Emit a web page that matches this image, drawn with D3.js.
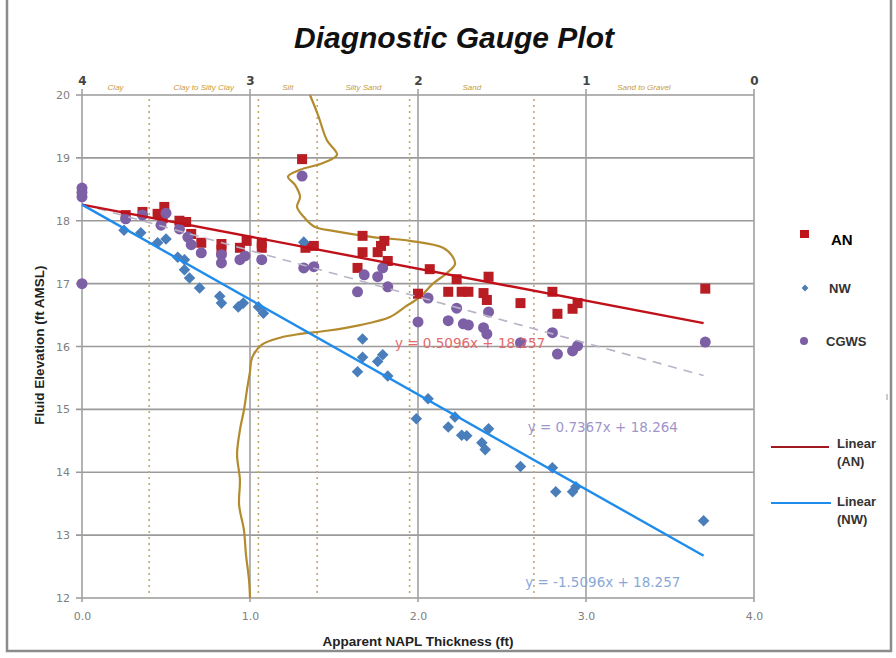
<!DOCTYPE html>
<html>
<head>
<meta charset="utf-8">
<script src="https://cdn.jsdelivr.net/npm/d3@7"></script>
<style>
  body { margin: 0; background: #fff; }
  svg { font-family: "Liberation Sans", Arial, sans-serif; }
</style>
</head>
<body>
<svg id="chart" width="896" height="658"></svg>
<script>
// gauge data: [apparent NAPL thickness (ft), fluid elevation (ft AMSL)]
let anPts = [[0.26,18.09],[0.36,18.14],[0.45,18.11],[0.49,18.22],[0.48,18.04],[0.58,18.0],[0.62,17.98],
  [0.65,17.79],[0.71,17.65],[0.83,17.63],[0.83,17.54],[0.94,17.57],[0.98,17.68],[1.07,17.65],[1.07,17.57],
  [1.31,18.98],[1.33,17.57],[1.38,17.6],[1.67,17.76],[1.67,17.5],[1.64,17.25],[1.76,17.5],[1.8,17.68],
  [1.78,17.6],[1.82,17.36],[2.07,17.23],[2.0,16.84],[2.18,16.87],[2.23,17.07],[2.26,16.87],[2.3,16.87],
  [2.42,17.11],[2.39,16.85],[2.41,16.74],[2.61,16.69],[2.8,16.87],[2.83,16.52],[2.92,16.6],[2.95,16.69],[3.71,16.92]]

let nwPts = [[0.25,17.85],[0.35,17.81],[0.45,17.65],[0.5,17.71],[0.57,17.42],[0.61,17.38],[0.61,17.22],
  [0.64,17.09],[0.7,16.93],[0.82,16.8],[0.83,16.69],[0.93,16.63],[0.96,16.69],[1.05,16.63],[1.08,16.53],
  [1.32,17.66],[1.67,16.12],[1.67,15.83],[1.64,15.6],[1.76,15.76],[1.79,15.87],[1.82,15.53],[2.06,15.17],
  [1.99,14.85],[2.18,14.72],[2.22,14.88],[2.26,14.59],[2.29,14.58],[2.38,14.47],[2.4,14.36],[2.42,14.69],
  [2.61,14.09],[2.8,14.07],[2.82,13.69],[2.92,13.69],[2.94,13.77],[3.7,13.23]]

let cgwsPts = [[0,18.52],[0,18.45],[0,18.38],[0,17.0],[0.26,18.03],[0.36,18.09],[0.47,17.93],[0.5,18.12],
  [0.58,17.87],[0.63,17.74],[0.65,17.62],[0.71,17.49],[0.83,17.46],[0.83,17.33],[0.94,17.38],[0.97,17.44],
  [1.07,17.38],[1.31,18.71],[1.32,17.25],[1.38,17.27],[1.64,16.87],[1.68,17.14],[1.76,17.11],[1.79,17.25],
  [1.82,16.95],[2.06,16.77],[2.0,16.39],[2.23,16.61],[2.18,16.41],[2.27,16.36],[2.3,16.34],[2.42,16.55],
  [2.39,16.3],[2.41,16.2],[2.61,16.06],[2.8,16.22],[2.83,15.88],[2.92,15.93],[2.95,16.01],[3.71,16.07]]

// soil behaviour index profile: [Ic, elevation]
let icCurve = [[2.643,20.0],[2.595,19.68],[2.542,19.28],[2.482,19.05],[2.565,18.92],[2.702,18.81],
  [2.774,18.7],[2.732,18.57],[2.702,18.38],[2.72,18.22],[2.673,18.04],[2.613,17.9],[2.506,17.84],
  [2.268,17.74],[2.048,17.68],[1.851,17.57],[1.792,17.42],[1.78,17.31],[1.827,17.17],[1.911,17.0],
  [1.988,16.79],[2.077,16.63],[2.167,16.47],[2.345,16.34],[2.542,16.25],[2.702,16.2],[2.821,16.14],
  [2.929,16.03],[2.988,15.82],[3.0,15.6],[3.018,15.31],[3.036,14.99],[3.06,14.67],[3.077,14.28],
  [3.06,13.88],[3.065,13.48],[3.036,13.08],[3.024,12.69],[3.006,12.29],[3.0,12.0]]

let soilBounds = [3.6, 2.95, 2.6, 2.05, 1.31]
let soilNames = ["Clay", "Clay to Silty Clay", "Silt", "Silty Sand", "Sand", "Sand to Gravel"]
let soilMids = [3.8, 3.275, 2.775, 2.325, 1.68, 0.655]

// linear trend lines: slope, intercept
let trendAN = {m: -0.5096, b: 18.257}
let trendNW = {m: -1.5096, b: 18.257}
let trendCG = {m: -0.7367, b: 18.264}
let trendEnd = 3.7

let xTicks = [0, 1, 2, 3, 4]
let yTicks = [12, 13, 14, 15, 16, 17, 18, 19, 20]
let icTicks = [4, 3, 2, 1, 0]

let svg = d3.select('#chart')

let pLeft = 82, pRight = 754, pTop = 95, pBottom = 598

let x = d3.scaleLinear().domain([0, 4]).range([pLeft, pRight])
let y = d3.scaleLinear().domain([12, 20]).range([pBottom, pTop])
let xIc = d3.scaleLinear().domain([4, 0]).range([pLeft, pRight])

// outer frame
svg.append('path')
    .attr('d', 'M7,0 V651 H891 V0')
    .attr('fill', 'none')
    .attr('stroke', '#8c8c8c')
    .attr('stroke-width', 2.5)

// title
svg.append('text')
    .attr('x', 454).attr('y', 48)
    .attr('text-anchor', 'middle')
    .attr('font-size', 30)
    .attr('font-weight', 'bold')
    .attr('font-style', 'italic')
    .attr('fill', '#111')
    .text('Diagnostic Gauge Plot')

// grid
svg.append('g').selectAll('line')
    .data(yTicks)
    .enter().append('line')
    .attr('x1', pLeft - 6).attr('x2', pRight)
    .attr('y1', d => y(d)).attr('y2', d => y(d))
    .attr('stroke', '#9a9a9a')
    .attr('stroke-width', 1.6)

svg.append('g').selectAll('line')
    .data(xTicks)
    .enter().append('line')
    .attr('x1', d => x(d)).attr('x2', d => x(d))
    .attr('y1', pTop - 6).attr('y2', pBottom + 4)
    .attr('stroke', '#a0a0a0')
    .attr('stroke-width', 1.6)

// left axis labels
let yAxis = svg.append('g')
    .attr('transform', `translate(${pLeft - 4},0)`)
    .call(d3.axisLeft(y).tickValues(yTicks).tickSize(0).tickPadding(8))
yAxis.select('.domain').remove()
yAxis.selectAll('text').attr('font-size', 11).attr('fill', '#808080')
    .attr('font-family', '"DejaVu Sans", sans-serif')

// bottom axis labels
let xAxis = svg.append('g')
    .attr('transform', `translate(0,${pBottom + 6})`)
    .call(d3.axisBottom(x).tickValues(xTicks).tickSize(0).tickPadding(8).tickFormat(d3.format('.1f')))
xAxis.select('.domain').remove()
xAxis.selectAll('text').attr('font-size', 11).attr('fill', '#808080')
    .attr('font-family', '"DejaVu Sans", sans-serif')

// top Ic axis labels
let icAxis = svg.append('g')
    .attr('transform', `translate(0,${pTop - 8})`)
    .call(d3.axisTop(xIc).tickValues(icTicks).tickSize(0).tickPadding(2).tickFormat(d3.format('d')))
icAxis.select('.domain').remove()
icAxis.selectAll('text').attr('font-size', 12).attr('fill', '#444')
    .attr('font-weight', 'bold')
    .attr('font-family', '"DejaVu Sans", sans-serif')

// soil type labels
svg.append('g').selectAll('text')
    .data(soilNames)
    .enter().append('text')
    .attr('x', (d, i) => xIc(soilMids[i]))
    .attr('y', pTop - 5)
    .attr('text-anchor', 'middle')
    .attr('font-size', 8)
    .attr('font-style', 'italic')
    .attr('fill', '#c89a3c')
    .text(d => d)

// soil boundary lines
svg.append('g').selectAll('line')
    .data(soilBounds)
    .enter().append('line')
    .attr('x1', d => xIc(d)).attr('x2', d => xIc(d))
    .attr('y1', pTop + 4).attr('y2', pBottom)
    .attr('stroke', '#c9a766')
    .attr('stroke-width', 1.6)
    .attr('stroke-dasharray', '2,4')

// Ic profile
svg.append('path')
    .datum(icCurve)
    .attr('d', d3.line().x(d => xIc(d[0])).y(d => y(d[1])).curve(d3.curveCatmullRom))
    .attr('fill', 'none')
    .attr('stroke', '#b38b2e')
    .attr('stroke-width', 2.2)

// points
svg.append('g').selectAll('rect')
    .data(anPts)
    .enter().append('rect')
    .attr('x', d => x(d[0]) - 5).attr('y', d => y(d[1]) - 5)
    .attr('width', 10).attr('height', 10)
    .attr('fill', '#b81d24')

svg.append('g').selectAll('path')
    .data(nwPts)
    .enter().append('path')
    .attr('d', d3.symbol().type(d3.symbolDiamond2).size(85))
    .attr('transform', d => `translate(${x(d[0])},${y(d[1])})`)
    .attr('fill', '#4a7ebb')

svg.append('g').selectAll('circle')
    .data(cgwsPts)
    .enter().append('circle')
    .attr('cx', d => x(d[0])).attr('cy', d => y(d[1]))
    .attr('r', 5.5)
    .attr('fill', '#7d5fa6')

// trend lines
let trendLine = (t, color, width, dash) => {
    svg.append('line')
        .attr('x1', x(0)).attr('y1', y(t.b))
        .attr('x2', x(trendEnd)).attr('y2', y(t.b + t.m * trendEnd))
        .attr('stroke', color)
        .attr('stroke-width', width)
        .attr('stroke-dasharray', dash)
}
trendLine(trendCG, '#b9b3c6', 1.6, '9,7')
trendLine(trendAN, '#c0101a', 2.4, null)
trendLine(trendNW, '#1f8ceb', 2.4, null)

// equation labels
let eqs = [
    {t: 'y =  0.5096x + 18.257', x: 2.31, y: 15.97, c: '#e26a6a'},
    {t: 'y =  0.7367x + 18.264', x: 3.1, y: 14.64, c: '#a195c8'},
    {t: 'y = -1.5096x + 18.257', x: 3.1, y: 12.18, c: '#8aa8d6'}
]
svg.append('g').selectAll('text')
    .data(eqs)
    .enter().append('text')
    .attr('x', d => x(d.x)).attr('y', d => y(d.y))
    .attr('text-anchor', 'middle')
    .attr('font-size', 13.5)
    .attr('font-family', '"DejaVu Sans", sans-serif')
    .attr('fill', d => d.c)
    .text(d => d.t)

// axis titles
svg.append('text')
    .attr('transform', 'translate(44,345) rotate(-90)')
    .attr('text-anchor', 'middle')
    .attr('font-size', 13.5)
    .attr('font-weight', 'bold')
    .attr('fill', '#222')
    .text('Fluid Elevation (ft AMSL)')

svg.append('text')
    .attr('x', 418).attr('y', 646)
    .attr('text-anchor', 'middle')
    .attr('font-size', 13.5)
    .attr('font-weight', 'bold')
    .attr('fill', '#222')
    .text('Apparent NAPL Thickness (ft)')

// legend
let lg = svg.append('g')
lg.append('rect').attr('x', 800).attr('y', 230).attr('width', 9).attr('height', 8).attr('fill', '#c0101a')
lg.append('text').attr('x', 831).attr('y', 245).attr('font-size', 15).attr('font-weight', 'bold')
    .attr('fill', '#000').text('AN')
lg.append('path').attr('d', d3.symbol().type(d3.symbolDiamond2).size(30))
    .attr('transform', 'translate(805,288)').attr('fill', '#4a7ebb')
lg.append('text').attr('x', 829).attr('y', 293).attr('font-size', 13).attr('font-weight', 'bold')
    .attr('fill', '#333').text('NW')
lg.append('circle').attr('cx', 804).attr('cy', 341).attr('r', 4).attr('fill', '#7d5fa6')
lg.append('text').attr('x', 826).attr('y', 346).attr('font-size', 13).attr('font-weight', 'bold')
    .attr('fill', '#333').text('CGWS')
lg.append('line').attr('x1', 887).attr('x2', 887).attr('y1', 394).attr('y2', 400)
    .attr('stroke', '#999')
lg.append('line').attr('x1', 771).attr('x2', 829).attr('y1', 447).attr('y2', 447)
    .attr('stroke', '#a01820').attr('stroke-width', 2)
lg.append('text').attr('x', 837).attr('y', 448).attr('font-size', 13).attr('font-weight', 'bold')
    .attr('fill', '#333').text('Linear')
lg.append('text').attr('x', 837).attr('y', 466).attr('font-size', 13).attr('font-weight', 'bold')
    .attr('fill', '#333').text('(AN)')
lg.append('line').attr('x1', 771).attr('x2', 831).attr('y1', 503).attr('y2', 503)
    .attr('stroke', '#1f8ceb').attr('stroke-width', 2)
lg.append('text').attr('x', 837).attr('y', 506).attr('font-size', 13).attr('font-weight', 'bold')
    .attr('fill', '#333').text('Linear')
lg.append('text').attr('x', 837).attr('y', 524).attr('font-size', 13).attr('font-weight', 'bold')
    .attr('fill', '#333').text('(NW)')
</script>
</body>
</html>
